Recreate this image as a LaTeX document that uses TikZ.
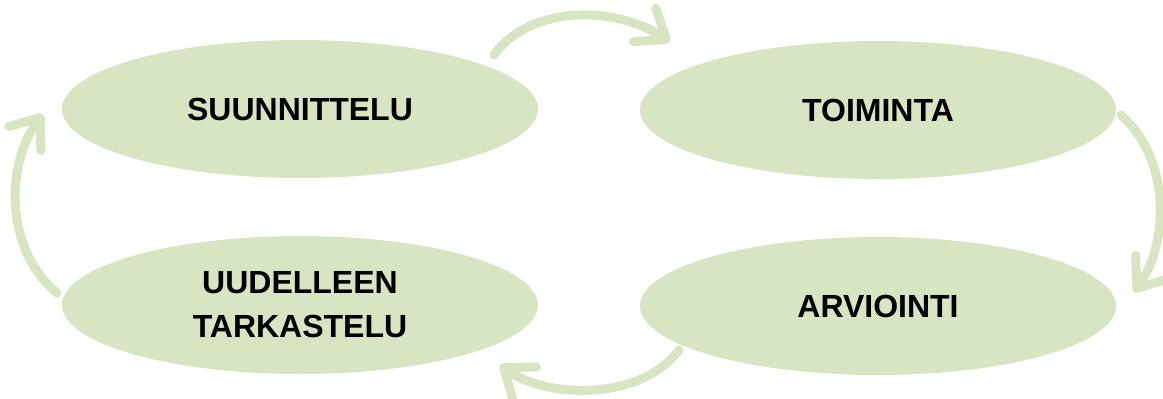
\documentclass[tikz,border=0pt]{standalone}
\usepackage{fontspec}
\setmainfont{Liberation Sans}
\usetikzlibrary{arrows.meta,shapes.geometric}
\definecolor{leaf}{HTML}{D8E5C2}
\begin{document}
\begin{tikzpicture}[x=1pt,y=-1pt,
  phase/.style={ellipse,fill=leaf,minimum width=476pt,minimum height=138pt,inner sep=0pt,
    font=\fontsize{32}{44}\selectfont\bfseries,align=center,text=black},
  cyc/.style={draw=leaf,line width=9pt,line cap=round,
    -{Straight Barb[length=26pt,width=40pt,line width=9pt,round]}}]
\useasboundingbox (0,0) rectangle (1163,399);
\node[phase] (plan) at (300,109) {SUUNNITTELU};
\node[phase] (act) at (878,110) {TOIMINTA};
\node[phase] (eval) at (878,306) {ARVIOINTI};
\node[phase] (rev) at (300,305) {UUDELLEEN\\TARKASTELU};
\coordinate (a1) at (494,55);
\coordinate (a2) at (670,42);
\coordinate (b1) at (1121,115);
\coordinate (b2) at (1134,292);
\coordinate (c1) at (679,350);
\coordinate (c2) at (500,365);
\coordinate (d1) at (57,293);
\coordinate (d2) at (43,114);
\draw[cyc] (a1) .. controls (530,5) and (615,5) .. (a2);
\draw[cyc] (b1) .. controls (1172,160) and (1168,245) .. (b2);
\draw[cyc] (c1) .. controls (640,402) and (545,398) .. (c2);
\draw[cyc] (d1) .. controls (5,250) and (5,165) .. (d2);
\end{tikzpicture}
\end{document}
